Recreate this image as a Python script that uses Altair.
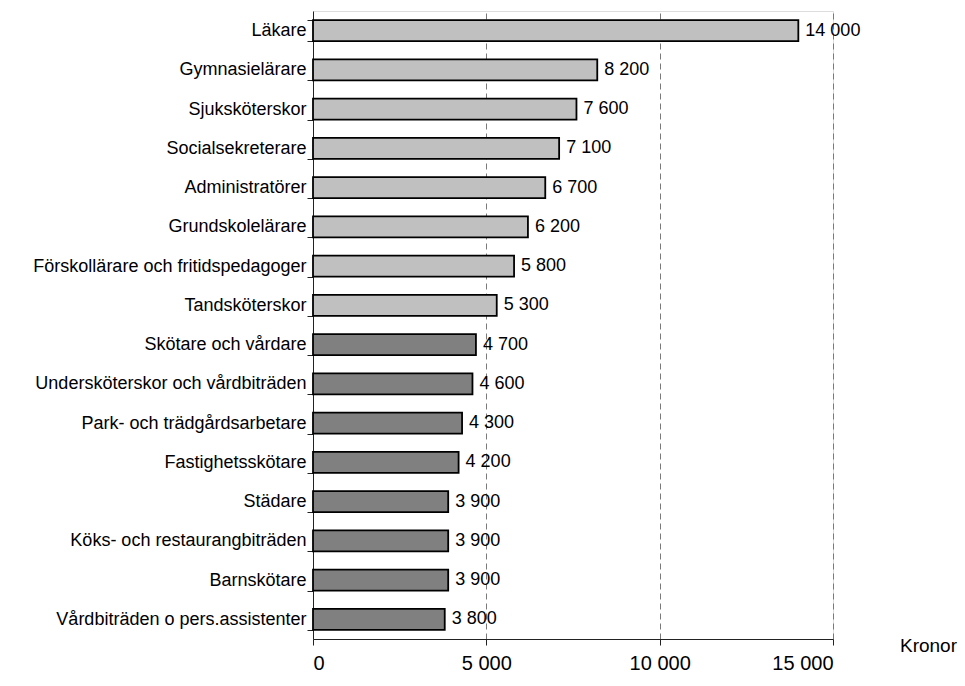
import altair as alt
import pandas as pd

categories = [
    "Läkare", "Gymnasielärare", "Sjuksköterskor", "Socialsekreterare",
    "Administratörer", "Grundskolelärare", "Förskollärare och fritidspedagoger",
    "Tandsköterskor", "Skötare och vårdare", "Undersköterskor och vårdbiträden",
    "Park- och trädgårdsarbetare", "Fastighetsskötare", "Städare",
    "Köks- och restaurangbiträden", "Barnskötare", "Vårdbiträden o pers.assistenter",
]
values = [14000, 8200, 7600, 7100, 6700, 6200, 5800, 5300,
          4700, 4600, 4300, 4200, 3900, 3900, 3900, 3800]
groups = ["A"] * 8 + ["B"] * 8

df = pd.DataFrame({"yrke": categories, "value": values, "grupp": groups})

FONT = "Liberation Sans"

y_enc = alt.Y(
    "yrke:N", sort=categories, title=None,
    scale=alt.Scale(paddingInner=0.47, paddingOuter=0.235),
    axis=alt.Axis(
        labelFont=FONT, labelFontSize=18, labelColor="#000",
        labelPadding=1, tickSize=6, tickBand="extent",
        tickColor="#222", domainColor="#222", labelLimit=400, grid=False,
    ),
)

x_enc = alt.X(
    "value:Q", title="Kronor",
    scale=alt.Scale(domain=[0, 15000], nice=False),
    axis=alt.Axis(
        values=[0, 5000, 10000, 15000],
        labelExpr="replace(format(datum.value, ','), ',', ' ')",
        labelFont=FONT, labelFontSize=20, labelColor="#000",
        tickSize=6, tickColor="#222", domainColor="#222", labelPadding=8,
        grid=True, gridColor="#7a7a7a", gridDash=[6, 4], gridWidth=1,
        titleFont=FONT, titleFontSize=19, titleFontWeight="normal", titleColor="#000",
        titleX=615, titleY=6, titleAlign="center", titleBaseline="middle",
        titleAngle=0,
    ),
)

bars = alt.Chart(df).mark_bar(stroke="#000", strokeWidth=1.8).encode(
    x=x_enc,
    y=y_enc,
    color=alt.Color("grupp:N", scale=alt.Scale(domain=["A", "B"], range=["#c0c0c0", "#808080"]), legend=None),
)

text = alt.Chart(df).transform_calculate(
    lbl="replace(format(datum.value, ','), ',', ' ')"
).mark_text(align="left", baseline="middle", dx=7, font=FONT, fontSize=18, color="#000").encode(
    x=alt.X("value:Q"),
    y=alt.Y("yrke:N", sort=categories),
    text="lbl:N",
)

chart = alt.layer(bars, text).properties(
    width=520, height=628,
    autosize=alt.AutoSizeParams(type="none"),
    padding={"left": 305, "top": 3, "right": 124, "bottom": 35},
).configure_view(stroke="#8a8a8a", strokeWidth=1).configure(background="white")

chart.save("out.html", embed_options={"renderer": "svg", "actions": False})
